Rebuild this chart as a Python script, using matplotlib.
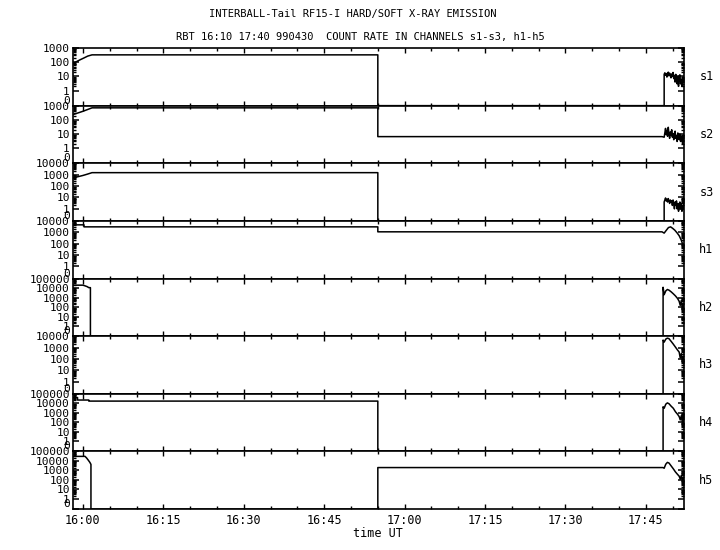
import numpy as np
import matplotlib
matplotlib.use('Agg')
import matplotlib.pyplot as plt
from matplotlib.ticker import FixedLocator, SymmetricalLogLocator, MultipleLocator

plt.rcParams['font.family'] = ['DejaVu Sans Mono']

# time in minutes after 16:00 UT
x_ticks = [0, 15, 30, 45, 60, 75, 90, 105]
x_labels = ['16:00', '16:15', '16:30', '16:45', '17:00', '17:15', '17:30', '17:45']
channels = ['s1', 's2', 's3', 'h1', 'h2', 'h3', 'h4', 'h5']
y_tops = [1000, 1000, 10000, 10000, 100000, 10000, 100000, 100000]

# noisy tail sampling (17:48 - 17:52)
tail_t = np.linspace(108.4, 112.1, 30)

s1_t = [-1.9, -1.2, -0.5, 0.2, 0.9, 1.7, 55.0, 55.0, 108.4]
s1_v = [80, 110, 150, 200, 270, 330, 330, 0, 0]
s1_tail = [14, 18, 12, 16, 9, 15, 20, 11, 17, 13, 8, 15, 10, 19, 7,
           12, 4, 14, 9, 3, 11, 2, 8, 13, 3, 6, 2, 9, 4, 7]

s2_t = [-1.9, -1.0, 0.0, 0.8, 1.7, 55.0, 55.0, 108.0]
s2_v = [230, 300, 400, 520, 700, 700, 6.6, 6.6]
s2_tail = [6, 12, 25, 9, 18, 7, 30, 10, 5, 14, 8, 20, 6, 11, 4,
           9, 16, 5, 8, 3, 12, 6, 4, 10, 3, 7, 5, 2, 6, 4]

s3_t = [-1.9, -1.0, 0.0, 0.8, 1.7, 55.0, 55.0, 108.4]
s3_v = [500, 650, 850, 1100, 1500, 1500, 0, 0]
s3_tail = [4, 6, 9, 5, 7, 4, 8, 5, 3, 6, 4, 5, 2, 6, 3,
           1, 4, 2, 5, 1, 3, 0.8, 2, 4, 1, 3, 0.8, 2, 1, 3]

h1_t = [-1.9, 0.2, 0.2, 55.0, 55.0, 108.0, 108.4, 108.8, 109.2, 109.6,
        110.0, 110.4, 110.8, 111.2, 111.6, 112.1]
h1_v = [4500, 4500, 3000, 3000, 1100, 1100, 850, 1500, 2600, 3000,
        2200, 1500, 900, 500, 200, 40]

h2_t = [-1.9, 0.0, 0.4, 0.8, 1.1, 1.4, 1.4, 108.2, 108.2, 108.4, 108.7,
        109.0, 109.3, 109.7, 110.1, 110.5, 110.9, 111.2, 111.4, 111.6,
        111.8, 112.0, 112.1]
h2_v = [20000, 20000, 17000, 14000, 11000, 11000, 0, 0, 12000, 2000, 5000,
        7000, 6000, 4000, 2500, 1500, 800, 400, 150, 500, 60, 200, 30]

h3_t = [-1.9, 108.2, 108.2, 108.4, 108.7, 109.0, 109.3, 109.7, 110.1,
        110.5, 110.9, 111.2, 111.4, 111.6, 111.8, 112.0, 112.1]
h3_v = [0, 0, 4500, 3000, 5500, 6700, 6000, 3500, 2000,
        1100, 600, 400, 120, 300, 60, 150, 40]

h4_t = [-1.9, -1.0, -1.0, 1.1, 1.1, 55.0, 55.0, 108.2, 108.2, 108.4, 108.7,
        109.0, 109.3, 109.7, 110.1, 110.5, 110.9, 111.2, 111.4, 111.6,
        111.8, 112.0, 112.1]
h4_v = [40000, 40000, 22000, 22000, 17000, 17000, 0, 0, 4300, 3000, 8000,
        11000, 9000, 5000, 3000, 1300, 700, 400, 180, 500, 100, 250, 80]

h5_t = [-1.9, 0.4, 0.7, 1.0, 1.3, 1.5, 1.5, 55.0, 55.0, 108.2, 108.4,
        108.7, 109.0, 109.3, 109.7, 110.1, 110.5, 110.9, 111.2, 111.4,
        111.6, 111.8, 112.0, 112.1]
h5_v = [30000, 30000, 20000, 12000, 7000, 4300, 0, 0, 2000, 2000, 1700,
        4500, 7000, 6000, 3000, 1500, 700, 380, 250, 120, 300, 80, 150, 110]

series = [
    (list(s1_t) + list(tail_t), s1_v + s1_tail),
    (list(s2_t) + list(tail_t), s2_v + s2_tail),
    (list(s3_t) + list(tail_t), s3_v + s3_tail),
    (h1_t, h1_v),
    (h2_t, h2_v),
    (h3_t, h3_v),
    (h4_t, h4_v),
    (h5_t, h5_v),
]

fig, axes = plt.subplots(8, 1, sharex=True, figsize=(7.2, 5.5), dpi=100)
fig.subplots_adjust(left=0.101, right=0.95, top=0.9127, bottom=0.0745, hspace=0)

for ax, name, top, (t, v) in zip(axes, channels, y_tops, series):
    ax.plot(t, v, color='black', lw=1.1)
    ax.set_yscale('symlog', linthresh=1, linscale=0.95)
    ax.set_ylim(0, top)
    yt = [0] + [10 ** k for k in range(int(np.log10(top)) + 1)]
    ax.yaxis.set_major_locator(FixedLocator(yt))
    ax.set_yticklabels([str(y) for y in yt])
    ax.yaxis.set_minor_locator(SymmetricalLogLocator(linthresh=1, base=10,
                                                     subs=np.arange(2, 10)))
    ax.yaxis.get_major_ticks()[0].label1.set_verticalalignment('bottom')
    ax.tick_params(axis='y', which='major', direction='in', length=4.5,
                   width=1.1, left=True, right=True, labelsize=8, pad=2)
    ax.tick_params(axis='y', which='minor', direction='in', length=2.5,
                   width=1.0, left=True, right=True)
    ax.tick_params(axis='x', which='major', direction='in', length=3.5,
                   width=1.0, top=True, bottom=True, labelsize=8.5)
    ax.tick_params(axis='x', which='minor', direction='in', length=2,
                   width=1.0, top=True, bottom=True)
    for sp in ax.spines.values():
        sp.set_linewidth(1.2)
    ax.text(1.025, 0.5, name, transform=ax.transAxes, fontsize=8.5,
            va='center', ha='left')

axes[-1].set_xlim(-1.9, 112.1)
axes[-1].set_xticks(x_ticks)
axes[-1].set_xticklabels(x_labels)
axes[-1].xaxis.set_minor_locator(MultipleLocator(5))
axes[-1].set_xlabel('time UT', fontsize=8.5, labelpad=0)

fig.text(0.49, 0.975, 'INTERBALL-Tail RF15-I HARD/SOFT X-RAY EMISSION',
         ha='center', va='center', fontsize=7.5)
fig.text(0.5, 0.933, 'RBT 16:10 17:40 990430  COUNT RATE IN CHANNELS s1-s3, h1-h5',
         ha='center', va='center', fontsize=7.5)

plt.savefig('out.png', dpi=100)
